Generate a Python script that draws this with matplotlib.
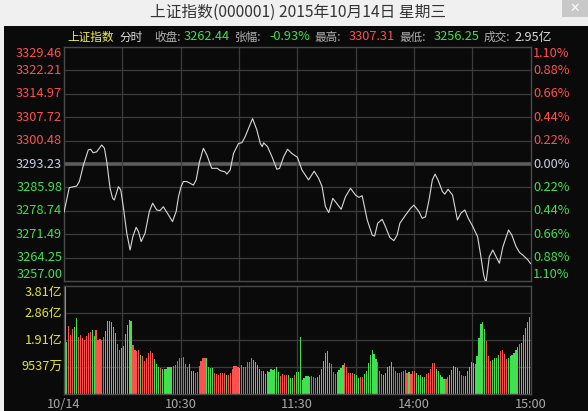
import numpy as np
import matplotlib
matplotlib.use("Agg")
import matplotlib.pyplot as plt
from matplotlib.patches import Rectangle
from matplotlib import transforms

plt.rcParams['font.family'] = ['Noto Sans CJK SC', 'DejaVu Sans']

# ---- data ----
title = "上证指数(000001) 2015年10月14日 星期三"

# minute index (0 = 9:30, 120 = 11:30/13:00, 240 = 15:00) and price
price_minutes = [0, 2.7, 6.5, 7.9, 10, 12.5, 13.7, 15, 16.8, 19.4, 20.8, 22, 23.7, 25, 25.9, 28, 29.2, 30.5,
                 32.3, 34, 35.4, 37.1, 38.3, 39.7, 41.7, 43.9, 45.6, 47.7, 49.4, 51.1, 53.2, 55.8, 57.7, 58.9,
                 60.1, 61.4, 63.2, 66.6, 68, 69.7, 71.7, 73.5, 76, 78.9, 80.3, 82.9, 83.8, 85.5, 87.2, 89.8,
                 91.5, 93.2, 97, 99.2, 101, 102, 102.7, 104.7, 107, 109.5, 110.9, 113, 115, 117.2, 120.1,
                 122.4, 125.8, 128.7, 131, 132.8, 134.5, 136.2, 138.3, 140.2, 142.6, 144.8, 147.4, 150, 151.7,
                 153.4, 156, 158.6, 159.8, 161.4, 163.7, 165.4, 167.6, 169.7, 171.4, 172.8, 175.7, 178.3, 180,
                 182.6, 184.3, 186, 187.8, 189.5, 190.9, 192.4, 194.7, 195.9, 197.6, 199.9, 202.4, 204.2,
                 206.2, 208, 210.2, 212.8, 214.5, 215.9, 217.1, 218.8, 220.6, 222.3, 224, 225.8, 228.7, 230.4,
                 232.6, 234.4, 236.1, 238.7, 240]
price_values = [3278.3, 3285.9, 3286.4, 3287.8, 3292.9, 3297.6, 3297.8, 3296.7, 3297.0, 3299.1, 3298.1, 3293.9,
                3285.7, 3282.6, 3282.1, 3286.2, 3285.2, 3280.0, 3271.8, 3266.6, 3270.7, 3273.6, 3272.3, 3269.2,
                3271.8, 3278.5, 3281.1, 3279.0, 3278.8, 3280.0, 3278.0, 3275.4, 3278.5, 3283.1, 3286.0, 3287.8,
                3287.8, 3286.7, 3288.3, 3293.9, 3298.1, 3296.0, 3291.9, 3291.9, 3291.2, 3290.8, 3290.1, 3291.4,
                3296.5, 3299.6, 3299.8, 3301.7, 3307.3, 3303.8, 3299.6, 3298.6, 3299.8, 3298.6, 3295.5, 3291.6,
                3291.9, 3295.5, 3297.8, 3296.5, 3295.3, 3291.4, 3288.3, 3291.0, 3288.8, 3286.2, 3280.0, 3278.2,
                3282.6, 3281.1, 3279.2, 3283.1, 3285.7, 3283.6, 3282.9, 3283.4, 3275.9, 3271.2, 3270.9, 3274.9,
                3276.1, 3273.8, 3270.5, 3269.5, 3271.2, 3274.9, 3277.4, 3279.5, 3280.5, 3278.5, 3276.4, 3276.9,
                3282.1, 3288.3, 3290.1, 3288.3, 3284.7, 3283.9, 3285.4, 3283.6, 3275.9, 3278.0, 3279.0, 3276.4,
                3274.0, 3270.7, 3264.5, 3258.9, 3256.3, 3264.5, 3266.6, 3264.5, 3262.5, 3267.6, 3272.8, 3271.2,
                3267.6, 3265.8, 3265.0, 3263.5, 3262.4]

# per-minute volume (亿)
volumes = [
    3.81, 1.83, 2.39, 2.08, 2.30, 2.36, 2.68, 2.00, 2.08, 1.98,
    1.91, 2.04, 2.14, 2.18, 2.26, 2.04, 2.26, 1.91, 1.94, 1.91,
    2.02, 2.21, 2.57, 2.57, 2.53, 2.36, 2.15, 1.77, 1.55, 1.62,
    1.71, 2.12, 2.45, 2.61, 2.57, 1.74, 1.55, 1.51, 1.55, 1.39,
    1.35, 1.18, 1.27, 1.44, 1.53, 1.45, 1.24, 1.06, 0.96, 0.92,
    0.88, 0.88, 0.88, 0.94, 0.94, 0.94, 1.00, 1.03, 1.15, 1.27,
    1.27, 1.30, 1.06, 0.94, 1.06, 0.80, 0.80, 0.73, 0.77, 0.99,
    1.15, 1.27, 1.27, 1.27, 0.94, 0.92, 0.92, 0.73, 0.71, 0.67,
    0.74, 0.74, 0.73, 0.67, 0.67, 0.74, 0.88, 0.99, 1.00, 0.94,
    0.92, 1.02, 0.94, 0.94, 1.13, 1.13, 1.27, 1.20, 1.13, 1.01,
    0.88, 0.82, 0.80, 0.71, 0.80, 0.78, 0.88, 0.85, 0.88, 0.94,
    0.78, 0.64, 0.71, 0.67, 0.67, 0.67, 0.57, 0.57, 0.67, 0.78,
    0.77, 2.02, 0.49, 0.57, 0.64, 0.64, 0.60, 0.64, 0.60, 0.57,
    0.60, 0.67, 0.88, 1.17, 1.45, 1.52, 1.09, 1.06, 0.78, 0.71,
    0.78, 0.85, 0.92, 1.02, 1.09, 0.95, 0.74, 0.74, 0.74, 0.71,
    0.67, 0.57, 0.60, 0.60, 0.71, 0.81, 1.09, 1.38, 1.55, 1.41,
    1.24, 1.13, 0.81, 0.71, 0.67, 0.74, 0.95, 0.99, 1.13, 0.95,
    0.81, 0.74, 0.74, 0.78, 0.81, 0.85, 0.74, 0.78, 0.71, 0.81,
    0.80, 0.74, 0.67, 0.67, 0.60, 0.60, 0.71, 0.74, 0.88, 1.09,
    1.09, 0.88, 0.81, 0.67, 0.60, 0.53, 0.53, 0.60, 0.67, 0.85,
    0.99, 0.95, 0.92, 0.81, 0.67, 0.64, 0.64, 0.81, 0.95, 1.13,
    1.09, 1.06, 1.34, 1.98, 2.47, 2.54, 2.30, 1.87, 1.34, 1.17,
    1.20, 1.27, 1.27, 1.38, 1.52, 1.55, 1.41, 1.24, 1.27, 1.34,
    1.38, 1.45, 1.55, 1.66, 1.77, 1.80, 2.08, 2.33, 2.54, 2.72,
]
# r = up minute, g = down minute
bar_dir = ("ggrrrggrrrrrrrggrrrrrggggggrrggggggrrrrgrrrrrrgggrggggggrrrr"
           "rrrrgggrrrrrrggggrrrrrrgrrrrrrgrrrrrrggggrgggggggggrrrrgggrg"
           "gggggggrrrgggggggrrrggggrrrrrgggrrgggggggrrrgggggrrrrrrrrgrr"
           "rgggggrrrrrgggggrrgggggrrrgggggggggggrrrggggrrrrggggggrggggg")

price_ticks = [3329.46, 3322.21, 3314.97, 3307.72, 3300.48, 3293.23, 3285.98, 3278.74, 3271.49, 3264.25, 3257.00]
pct_labels = ["1.10%", "0.88%", "0.66%", "0.44%", "0.22%", "0.00%", "0.22%", "0.44%", "0.66%", "0.88%", "1.10%"]
vol_ticks = [0.9537, 1.9074, 2.8611, 3.8148]
vol_labels = ["9537万", "1.91亿", "2.86亿", "3.81亿"]
time_ticks = [0, 60, 120, 180, 240]
time_labels = ["10/14", "10:30", "11:30", "14:00", "15:00"]

header = [("上证指数", "#f0f050"), ("分时", "#e0e0e0"), ("收盘:", "#b0b0b0"), ("3262.44", "#40e050"),
          ("张幅:", "#b0b0b0"), ("-0.93%", "#40e050"), ("最高:", "#b0b0b0"), ("3307.31", "#ff5050"),
          ("最低:", "#b0b0b0"), ("3256.25", "#40e050"), ("成交:", "#b0b0b0"), ("2.95亿", "#d8d8d8")]
header_x = [67, 119, 154, 184, 235, 269, 314, 349, 399, 434, 484, 514]

RED = "#ff5050"
GREEN = "#40e050"
GRID = "#3c3c3c"
FS = 9.2

# ---- figure ----
W, H = 588, 411
fig = plt.figure(figsize=(W / 100, H / 100), dpi=100, facecolor="#f0f0f0")


def rect(left, top, right, bottom):
    return [left / W, 1 - bottom / H, (right - left) / W, (bottom - top) / H]


# black panel + close button
fig.patches.append(Rectangle((4 / W, 0), 1 - 4 / W, 1 - 26 / H, transform=fig.transFigure,
                             facecolor="#0a0a0a", edgecolor="none", zorder=-10))
fig.patches.append(Rectangle((562 / W, 1 - 17 / H), 26 / W, 17 / H, transform=fig.transFigure,
                             facecolor="#c8c8c8", edgecolor="none", zorder=-10))
fig.text(575 / W, 1 - 8.5 / H, "✕", color="white", fontsize=9, ha="center", va="center",
         family=["DejaVu Sans"])
fig.text(298 / W, 1 - 12 / H, title, color="#333333", fontsize=11.3, ha="center", va="center")

for (txt, col), x in zip(header, header_x):
    size = FS if txt[0].isdigit() or txt[0] == "-" else 8.4
    fig.text(x / W, 1 - 37 / H, txt, color=col, fontsize=size, ha="left", va="center")

# 1. price panel
ax = fig.add_axes(rect(64, 47, 530.5, 281))
ax.set_facecolor("#0a0a0a")
ax.set_xlim(0, 240)
ax.set_ylim(price_ticks[-1], price_ticks[0])
ax.set_xticks([])
ax.set_yticks([])
for s in ax.spines.values():
    s.set_color("#4a4a4a")
    s.set_linewidth(1)

for p in price_ticks[1:-1]:
    if p == price_ticks[5]:
        ax.axhline(p, color="#5c5c5c", linewidth=2.6, zorder=1)
    else:
        ax.axhline(p, color=GRID, linewidth=0.9, zorder=1)
for m in range(30, 240, 30):
    ax.axvline(m, color=GRID, linewidth=0.9, zorder=1)

ax.plot(price_minutes, price_values, color="#d8d8d8", linewidth=0.8, zorder=3)

ytrans = ax.get_yaxis_transform()
for i, (p, pl) in enumerate(zip(price_ticks, pct_labels)):
    if i < 5:
        col = RED
    elif i == 5:
        col = "#c8d0e8"
    else:
        col = GREEN
    va = "top" if i == 0 else ("bottom" if i == len(price_ticks) - 1 else "center")
    ax.text(-0.004, p, "%.2f" % p, color=col, fontsize=FS, ha="right", va=va, transform=ytrans)
    ax.text(1.006, p, pl, color=col, fontsize=FS, ha="left", va=va, transform=ytrans)

# 2. volume panel
axv = fig.add_axes(rect(64, 286, 530.5, 394))
axv.set_facecolor("#0a0a0a")
axv.set_xlim(0, 240)
axv.set_ylim(0, vol_ticks[-1])
axv.set_xticks([])
axv.set_yticks([])
for s in axv.spines.values():
    s.set_color("#4a4a4a")
    s.set_linewidth(1)
for v in vol_ticks[:-1]:
    axv.axhline(v, color=GRID, linewidth=0.9, zorder=1)
for m in range(30, 240, 30):
    axv.axvline(m, color=GRID, linewidth=0.9, zorder=1)

bar_x = np.arange(len(volumes)) + 0.5
bar_colors = [RED if d == "r" else GREEN for d in bar_dir]
axv.bar(bar_x, volumes, width=0.6, color=bar_colors, linewidth=0, zorder=2)

vtrans = axv.get_yaxis_transform()
for i, (v, vl) in enumerate(zip(vol_ticks, vol_labels)):
    va = "top" if i == len(vol_ticks) - 1 else "center"
    axv.text(-0.004, v, vl, color="#e8e820", fontsize=FS, ha="right", va=va, transform=vtrans)

xtrans = transforms.blended_transform_factory(axv.transData, axv.transAxes)
for m, lab in zip(time_ticks, time_labels):
    axv.text(m, -0.095, lab, color="#a8a8a8", fontsize=FS, ha="center", va="center", transform=xtrans)

plt.savefig("out.png", dpi=100, facecolor=fig.get_facecolor())
